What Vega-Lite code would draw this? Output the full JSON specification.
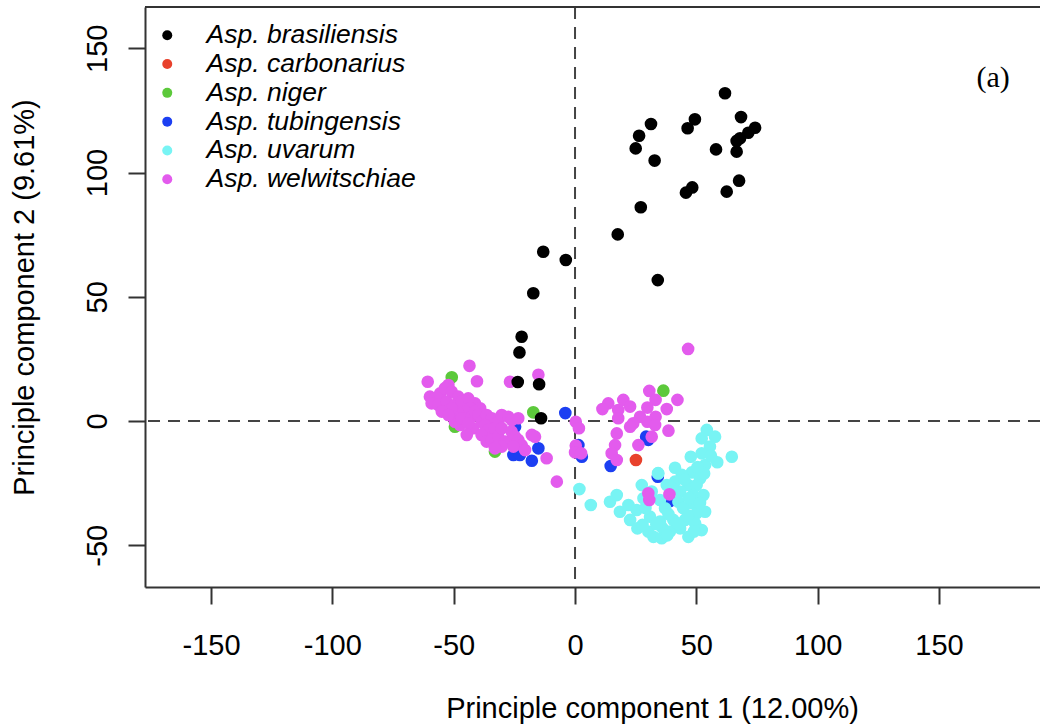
{
  "$schema": "https://vega.github.io/schema/vega-lite/v6.json",
  "autosize": "none",
  "padding": {"left": 145, "top": 7, "right": 0, "bottom": 139},
  "width": 895,
  "height": 580,
  "background": "white",
  "config": {
    "view": {"stroke": null},
    "axis": {
      "grid": false,
      "domainColor": "#333333",
      "domainWidth": 2,
      "tickColor": "#333333",
      "tickWidth": 2,
      "tickSize": 17,
      "labelFont": "Liberation Sans",
      "labelFontSize": 29,
      "labelColor": "#000000",
      "titleFont": "Liberation Sans",
      "titleFontSize": 29,
      "titleFontWeight": "normal",
      "titleColor": "#000000"
    },
    "legend": {
      "orient": "none",
      "legendX": 9,
      "legendY": 15,
      "padding": 0,
      "labelFont": "Liberation Sans",
      "labelFontSize": 26.5,
      "labelFontStyle": "italic",
      "labelColor": "#000000",
      "labelOffset": 26,
      "symbolSize": 100,
      "symbolType": "circle",
      "symbolStrokeWidth": 0,
      "rowPadding": 1.8,
      "labelLimit": 400
    }
  },
  "datasets": {
    "pts": [
      {"species": "Asp. tubingensis", "pc1": -4.0, "pc2": 3.2},
      {"species": "Asp. tubingensis", "pc1": 1.4, "pc2": -9.7},
      {"species": "Asp. tubingensis", "pc1": 2.8, "pc2": -14.4},
      {"species": "Asp. tubingensis", "pc1": -15.1, "pc2": -11.0},
      {"species": "Asp. tubingensis", "pc1": -17.8, "pc2": -16.0},
      {"species": "Asp. tubingensis", "pc1": -25.4, "pc2": -13.7},
      {"species": "Asp. tubingensis", "pc1": -22.7, "pc2": -13.7},
      {"species": "Asp. tubingensis", "pc1": -32.3, "pc2": -3.6},
      {"species": "Asp. tubingensis", "pc1": -24.7, "pc2": -2.3},
      {"species": "Asp. tubingensis", "pc1": 29.3, "pc2": -6.3},
      {"species": "Asp. tubingensis", "pc1": 30.2, "pc2": -7.6},
      {"species": "Asp. tubingensis", "pc1": 14.7, "pc2": -18.1},
      {"species": "Asp. tubingensis", "pc1": 34.1, "pc2": -22.4},
      {"species": "Asp. tubingensis", "pc1": 39.1, "pc2": -32.2},
      {"species": "Asp. niger", "pc1": -50.8, "pc2": 17.6},
      {"species": "Asp. niger", "pc1": -17.2, "pc2": 3.5},
      {"species": "Asp. niger", "pc1": 36.4, "pc2": 12.2},
      {"species": "Asp. niger", "pc1": -49.5, "pc2": -2.3},
      {"species": "Asp. niger", "pc1": -33.0, "pc2": -12.3},
      {"species": "Asp. uvarum", "pc1": 54.3, "pc2": -3.6},
      {"species": "Asp. uvarum", "pc1": 57.7, "pc2": -6.3},
      {"species": "Asp. uvarum", "pc1": 52.2, "pc2": -7.0},
      {"species": "Asp. uvarum", "pc1": 55.6, "pc2": -10.3},
      {"species": "Asp. uvarum", "pc1": 52.2, "pc2": -13.0},
      {"species": "Asp. uvarum", "pc1": 47.7, "pc2": -14.4},
      {"species": "Asp. uvarum", "pc1": 64.6, "pc2": -14.4},
      {"species": "Asp. uvarum", "pc1": 58.6, "pc2": -16.6},
      {"species": "Asp. uvarum", "pc1": 53.6, "pc2": -17.7},
      {"species": "Asp. uvarum", "pc1": 48.1, "pc2": -20.7},
      {"species": "Asp. uvarum", "pc1": 51.5, "pc2": -23.1},
      {"species": "Asp. uvarum", "pc1": 41.2, "pc2": -18.8},
      {"species": "Asp. uvarum", "pc1": 44.0, "pc2": -21.7},
      {"species": "Asp. uvarum", "pc1": 53.2, "pc2": -21.1},
      {"species": "Asp. uvarum", "pc1": 34.3, "pc2": -21.1},
      {"species": "Asp. uvarum", "pc1": 41.2, "pc2": -24.4},
      {"species": "Asp. uvarum", "pc1": 46.7, "pc2": -25.8},
      {"species": "Asp. uvarum", "pc1": 50.1, "pc2": -25.8},
      {"species": "Asp. uvarum", "pc1": 27.5, "pc2": -25.8},
      {"species": "Asp. uvarum", "pc1": 31.6, "pc2": -28.4},
      {"species": "Asp. uvarum", "pc1": 43.3, "pc2": -28.4},
      {"species": "Asp. uvarum", "pc1": 48.7, "pc2": -29.8},
      {"species": "Asp. uvarum", "pc1": 52.9, "pc2": -29.8},
      {"species": "Asp. uvarum", "pc1": 17.2, "pc2": -29.8},
      {"species": "Asp. uvarum", "pc1": 14.4, "pc2": -32.5},
      {"species": "Asp. uvarum", "pc1": 28.2, "pc2": -31.1},
      {"species": "Asp. uvarum", "pc1": 35.0, "pc2": -31.8},
      {"species": "Asp. uvarum", "pc1": 42.6, "pc2": -32.5},
      {"species": "Asp. uvarum", "pc1": 48.1, "pc2": -33.1},
      {"species": "Asp. uvarum", "pc1": 22.0, "pc2": -33.8},
      {"species": "Asp. uvarum", "pc1": 25.4, "pc2": -35.8},
      {"species": "Asp. uvarum", "pc1": 37.1, "pc2": -35.1},
      {"species": "Asp. uvarum", "pc1": 18.5, "pc2": -36.5},
      {"species": "Asp. uvarum", "pc1": 53.6, "pc2": -36.5},
      {"species": "Asp. uvarum", "pc1": 50.1, "pc2": -37.1},
      {"species": "Asp. uvarum", "pc1": 30.9, "pc2": -38.5},
      {"species": "Asp. uvarum", "pc1": 22.7, "pc2": -39.8},
      {"species": "Asp. uvarum", "pc1": 35.0, "pc2": -40.5},
      {"species": "Asp. uvarum", "pc1": 40.5, "pc2": -39.8},
      {"species": "Asp. uvarum", "pc1": 45.3, "pc2": -39.8},
      {"species": "Asp. uvarum", "pc1": 49.5, "pc2": -41.2},
      {"species": "Asp. uvarum", "pc1": 25.7, "pc2": -43.2},
      {"species": "Asp. uvarum", "pc1": 30.2, "pc2": -44.5},
      {"species": "Asp. uvarum", "pc1": 32.3, "pc2": -46.6},
      {"species": "Asp. uvarum", "pc1": 35.7, "pc2": -47.2},
      {"species": "Asp. uvarum", "pc1": 39.1, "pc2": -44.5},
      {"species": "Asp. uvarum", "pc1": 43.3, "pc2": -43.2},
      {"species": "Asp. uvarum", "pc1": 46.7, "pc2": -46.6},
      {"species": "Asp. uvarum", "pc1": 52.2, "pc2": -43.9},
      {"species": "Asp. uvarum", "pc1": 37.8, "pc2": -25.8},
      {"species": "Asp. uvarum", "pc1": 34.2, "pc2": -21.0},
      {"species": "Asp. uvarum", "pc1": 1.8, "pc2": -27.4},
      {"species": "Asp. uvarum", "pc1": 6.5, "pc2": -33.8},
      {"species": "Asp. uvarum", "pc1": 38.5, "pc2": -37.5},
      {"species": "Asp. uvarum", "pc1": 44.5, "pc2": -35.0},
      {"species": "Asp. uvarum", "pc1": 47.0, "pc2": -31.0},
      {"species": "Asp. uvarum", "pc1": 40.0, "pc2": -27.0},
      {"species": "Asp. uvarum", "pc1": 36.0, "pc2": -43.0},
      {"species": "Asp. uvarum", "pc1": 49.0, "pc2": -44.5},
      {"species": "Asp. uvarum", "pc1": 33.5, "pc2": -41.5},
      {"species": "Asp. uvarum", "pc1": 27.8, "pc2": -41.8},
      {"species": "Asp. uvarum", "pc1": 50.5, "pc2": -18.5},
      {"species": "Asp. uvarum", "pc1": 56.0, "pc2": -14.0},
      {"species": "Asp. uvarum", "pc1": 45.0, "pc2": -23.5},
      {"species": "Asp. uvarum", "pc1": 42.5, "pc2": -41.5},
      {"species": "Asp. uvarum", "pc1": 38.0, "pc2": -46.0},
      {"species": "Asp. uvarum", "pc1": 46.5, "pc2": -38.0},
      {"species": "Asp. uvarum", "pc1": 51.5, "pc2": -33.0},
      {"species": "Asp. uvarum", "pc1": 29.0, "pc2": -35.0},
      {"species": "Asp. welwitschiae", "pc1": -43.5, "pc2": 22.2},
      {"species": "Asp. welwitschiae", "pc1": -60.7, "pc2": 15.8},
      {"species": "Asp. welwitschiae", "pc1": -40.4, "pc2": 16.0},
      {"species": "Asp. welwitschiae", "pc1": -26.8, "pc2": 15.8},
      {"species": "Asp. welwitschiae", "pc1": -15.1, "pc2": 18.6},
      {"species": "Asp. welwitschiae", "pc1": -59.8, "pc2": 9.8},
      {"species": "Asp. welwitschiae", "pc1": -52.2, "pc2": 14.5},
      {"species": "Asp. welwitschiae", "pc1": -41.2, "pc2": 7.1},
      {"species": "Asp. welwitschiae", "pc1": -39.1, "pc2": 5.1},
      {"species": "Asp. welwitschiae", "pc1": -49.5, "pc2": -0.3},
      {"species": "Asp. welwitschiae", "pc1": -47.4, "pc2": -1.6},
      {"species": "Asp. welwitschiae", "pc1": -41.9, "pc2": -2.9},
      {"species": "Asp. welwitschiae", "pc1": -57.7, "pc2": 9.1},
      {"species": "Asp. welwitschiae", "pc1": -55.6, "pc2": 11.1},
      {"species": "Asp. welwitschiae", "pc1": -53.6, "pc2": 13.2},
      {"species": "Asp. welwitschiae", "pc1": -50.8, "pc2": 11.8},
      {"species": "Asp. welwitschiae", "pc1": -48.1, "pc2": 9.8},
      {"species": "Asp. welwitschiae", "pc1": -59.1, "pc2": 7.1},
      {"species": "Asp. welwitschiae", "pc1": -56.3, "pc2": 6.4},
      {"species": "Asp. welwitschiae", "pc1": -52.9, "pc2": 7.8},
      {"species": "Asp. welwitschiae", "pc1": -49.5, "pc2": 6.4},
      {"species": "Asp. welwitschiae", "pc1": -46.7, "pc2": 7.8},
      {"species": "Asp. welwitschiae", "pc1": -44.0, "pc2": 9.1},
      {"species": "Asp. welwitschiae", "pc1": -43.3, "pc2": 5.1},
      {"species": "Asp. welwitschiae", "pc1": -45.3, "pc2": 3.8},
      {"species": "Asp. welwitschiae", "pc1": -48.1, "pc2": 3.1},
      {"species": "Asp. welwitschiae", "pc1": -50.8, "pc2": 5.1},
      {"species": "Asp. welwitschiae", "pc1": -54.9, "pc2": 3.8},
      {"species": "Asp. welwitschiae", "pc1": -52.2, "pc2": 2.4},
      {"species": "Asp. welwitschiae", "pc1": -46.7, "pc2": 1.1},
      {"species": "Asp. welwitschiae", "pc1": -42.6, "pc2": 1.7},
      {"species": "Asp. welwitschiae", "pc1": -41.2, "pc2": 3.8},
      {"species": "Asp. welwitschiae", "pc1": -44.0, "pc2": -0.9},
      {"species": "Asp. welwitschiae", "pc1": -44.6, "pc2": -5.6},
      {"species": "Asp. welwitschiae", "pc1": -39.8, "pc2": 2.4},
      {"species": "Asp. welwitschiae", "pc1": -38.5, "pc2": -0.3},
      {"species": "Asp. welwitschiae", "pc1": -36.4, "pc2": 2.4},
      {"species": "Asp. welwitschiae", "pc1": -34.3, "pc2": 1.1},
      {"species": "Asp. welwitschiae", "pc1": -37.1, "pc2": -1.6},
      {"species": "Asp. welwitschiae", "pc1": -35.7, "pc2": -3.6},
      {"species": "Asp. welwitschiae", "pc1": -31.6, "pc2": -0.3},
      {"species": "Asp. welwitschiae", "pc1": -30.2, "pc2": 2.4},
      {"species": "Asp. welwitschiae", "pc1": -27.5, "pc2": 1.7},
      {"species": "Asp. welwitschiae", "pc1": -26.1, "pc2": 0.4},
      {"species": "Asp. welwitschiae", "pc1": -23.4, "pc2": 1.1},
      {"species": "Asp. welwitschiae", "pc1": -33.0, "pc2": -2.9},
      {"species": "Asp. welwitschiae", "pc1": -38.5, "pc2": -5.6},
      {"species": "Asp. welwitschiae", "pc1": -36.4, "pc2": -8.3},
      {"species": "Asp. welwitschiae", "pc1": -34.3, "pc2": -7.6},
      {"species": "Asp. welwitschiae", "pc1": -31.6, "pc2": -6.3},
      {"species": "Asp. welwitschiae", "pc1": -30.2, "pc2": -2.9},
      {"species": "Asp. welwitschiae", "pc1": -28.8, "pc2": -8.3},
      {"species": "Asp. welwitschiae", "pc1": -26.1, "pc2": -4.3},
      {"species": "Asp. welwitschiae", "pc1": -24.7, "pc2": -6.3},
      {"species": "Asp. welwitschiae", "pc1": -23.4, "pc2": -7.6},
      {"species": "Asp. welwitschiae", "pc1": -22.0, "pc2": -9.7},
      {"species": "Asp. welwitschiae", "pc1": -25.4, "pc2": -10.3},
      {"species": "Asp. welwitschiae", "pc1": -30.2, "pc2": -10.3},
      {"species": "Asp. welwitschiae", "pc1": -33.0, "pc2": -11.0},
      {"species": "Asp. welwitschiae", "pc1": -20.6, "pc2": -11.7},
      {"species": "Asp. welwitschiae", "pc1": -17.8, "pc2": -5.6},
      {"species": "Asp. welwitschiae", "pc1": -16.5, "pc2": -6.3},
      {"species": "Asp. welwitschiae", "pc1": -11.7, "pc2": -15.0},
      {"species": "Asp. welwitschiae", "pc1": -7.5, "pc2": -24.4},
      {"species": "Asp. welwitschiae", "pc1": 0.3, "pc2": -0.3},
      {"species": "Asp. welwitschiae", "pc1": 1.6, "pc2": -2.9},
      {"species": "Asp. welwitschiae", "pc1": 0.3, "pc2": -9.9},
      {"species": "Asp. welwitschiae", "pc1": 0.0, "pc2": -12.6},
      {"species": "Asp. welwitschiae", "pc1": 2.5, "pc2": -13.0},
      {"species": "Asp. welwitschiae", "pc1": 30.6, "pc2": 12.1},
      {"species": "Asp. welwitschiae", "pc1": 33.2, "pc2": 8.5},
      {"species": "Asp. welwitschiae", "pc1": 42.2, "pc2": 8.5},
      {"species": "Asp. welwitschiae", "pc1": 19.9, "pc2": 8.5},
      {"species": "Asp. welwitschiae", "pc1": 13.7, "pc2": 7.1},
      {"species": "Asp. welwitschiae", "pc1": 11.3, "pc2": 4.8},
      {"species": "Asp. welwitschiae", "pc1": 17.8, "pc2": 4.4},
      {"species": "Asp. welwitschiae", "pc1": 22.7, "pc2": 5.8},
      {"species": "Asp. welwitschiae", "pc1": 29.8, "pc2": 5.4},
      {"species": "Asp. welwitschiae", "pc1": 37.8, "pc2": 4.8},
      {"species": "Asp. welwitschiae", "pc1": 17.8, "pc2": 1.1},
      {"species": "Asp. welwitschiae", "pc1": 26.8, "pc2": 1.7},
      {"species": "Asp. welwitschiae", "pc1": 33.2, "pc2": 1.7},
      {"species": "Asp. welwitschiae", "pc1": 24.0, "pc2": -0.9},
      {"species": "Asp. welwitschiae", "pc1": 29.8, "pc2": -0.3},
      {"species": "Asp. welwitschiae", "pc1": 33.0, "pc2": -1.6},
      {"species": "Asp. welwitschiae", "pc1": 22.7, "pc2": -2.3},
      {"species": "Asp. welwitschiae", "pc1": 38.5, "pc2": -3.9},
      {"species": "Asp. welwitschiae", "pc1": 17.2, "pc2": -5.0},
      {"species": "Asp. welwitschiae", "pc1": 31.6, "pc2": -6.3},
      {"species": "Asp. welwitschiae", "pc1": 16.5, "pc2": -9.7},
      {"species": "Asp. welwitschiae", "pc1": 26.1, "pc2": -9.7},
      {"species": "Asp. welwitschiae", "pc1": 15.1, "pc2": -13.0},
      {"species": "Asp. welwitschiae", "pc1": 17.2, "pc2": -15.7},
      {"species": "Asp. welwitschiae", "pc1": 30.2, "pc2": -29.1},
      {"species": "Asp. welwitschiae", "pc1": 30.6, "pc2": -31.8},
      {"species": "Asp. welwitschiae", "pc1": 38.9, "pc2": -29.5},
      {"species": "Asp. welwitschiae", "pc1": 46.6, "pc2": 29.0},
      {"species": "Asp. brasiliensis", "pc1": 61.8, "pc2": 131.9},
      {"species": "Asp. brasiliensis", "pc1": 68.4, "pc2": 122.3},
      {"species": "Asp. brasiliensis", "pc1": 49.4, "pc2": 121.4},
      {"species": "Asp. brasiliensis", "pc1": 46.4, "pc2": 117.8},
      {"species": "Asp. brasiliensis", "pc1": 31.3, "pc2": 119.5},
      {"species": "Asp. brasiliensis", "pc1": 26.4, "pc2": 114.8},
      {"species": "Asp. brasiliensis", "pc1": 25.0, "pc2": 109.7},
      {"species": "Asp. brasiliensis", "pc1": 32.8, "pc2": 104.8},
      {"species": "Asp. brasiliensis", "pc1": 74.2, "pc2": 118.0},
      {"species": "Asp. brasiliensis", "pc1": 71.4, "pc2": 116.0},
      {"species": "Asp. brasiliensis", "pc1": 68.0, "pc2": 113.8},
      {"species": "Asp. brasiliensis", "pc1": 66.6, "pc2": 112.7},
      {"species": "Asp. brasiliensis", "pc1": 58.1, "pc2": 109.3},
      {"species": "Asp. brasiliensis", "pc1": 66.6, "pc2": 108.4},
      {"species": "Asp. brasiliensis", "pc1": 67.6, "pc2": 96.7},
      {"species": "Asp. brasiliensis", "pc1": 62.5, "pc2": 92.3},
      {"species": "Asp. brasiliensis", "pc1": 48.3, "pc2": 94.0},
      {"species": "Asp. brasiliensis", "pc1": 45.7, "pc2": 91.9},
      {"species": "Asp. brasiliensis", "pc1": 27.1, "pc2": 86.0},
      {"species": "Asp. brasiliensis", "pc1": 17.6, "pc2": 75.1},
      {"species": "Asp. brasiliensis", "pc1": 34.1, "pc2": 56.7},
      {"species": "Asp. brasiliensis", "pc1": -13.1, "pc2": 68.1},
      {"species": "Asp. brasiliensis", "pc1": -3.8, "pc2": 64.8},
      {"species": "Asp. brasiliensis", "pc1": -17.2, "pc2": 51.4},
      {"species": "Asp. brasiliensis", "pc1": -22.0, "pc2": 33.9},
      {"species": "Asp. brasiliensis", "pc1": -22.9, "pc2": 27.6},
      {"species": "Asp. brasiliensis", "pc1": -23.6, "pc2": 15.7},
      {"species": "Asp. brasiliensis", "pc1": -14.8, "pc2": 14.8},
      {"species": "Asp. brasiliensis", "pc1": -14.0, "pc2": 1.1},
      {"species": "Asp. carbonarius", "pc1": 25.1, "pc2": -15.7}
    ],
    "one": [{"label": "(a)"}]
  },
  "layer": [
    {
      "data": {"name": "one"},
      "mark": {"type": "rule", "color": "#444444", "strokeWidth": 2, "strokeDash": [12, 8]},
      "encoding": {
        "x": {"datum": 0, "type": "quantitative", "scale": {"domain": [-177.2, 191.6], "nice": false, "zero": false}}
      }
    },
    {
      "data": {"name": "one"},
      "mark": {"type": "rule", "color": "#444444", "strokeWidth": 2, "strokeDash": [12, 8]},
      "encoding": {
        "y": {"datum": 0, "type": "quantitative", "scale": {"domain": [-66.8, 166.6], "nice": false, "zero": false}}
      }
    },
    {
      "data": {"name": "one"},
      "mark": {"type": "rule", "color": "#333333", "strokeWidth": 2},
      "encoding": {
        "y": {"datum": 166.6, "type": "quantitative"}
      }
    },
    {
      "data": {"name": "pts"},
      "mark": {"type": "circle", "size": 160, "opacity": 1},
      "encoding": {
        "x": {
          "field": "pc1", "type": "quantitative",
          "scale": {"domain": [-177.2, 191.6], "nice": false, "zero": false},
          "axis": {
            "title": "Principle component 1 (12.00%)",
            "values": [-150, -100, -50, 0, 50, 100, 150],
            "labelExpr": "'' + datum.value",
            "labelPadding": 27,
            "titleX": 507,
            "titleY": 121,
            "titleAlign": "center",
            "titleBaseline": "middle",
            "titleAnchor": null
          }
        },
        "y": {
          "field": "pc2", "type": "quantitative",
          "scale": {"domain": [-66.8, 166.6], "nice": false, "zero": false},
          "axis": {
            "title": "Principle component 2 (9.61%)",
            "values": [-50, 0, 50, 100, 150],
            "labelExpr": "'' + datum.value",
            "labelAngle": -90,
            "labelAlign": "center",
            "labelBaseline": "bottom",
            "labelPadding": 16,
            "titleX": -121,
            "titleY": 290,
            "titleAlign": "center",
            "titleBaseline": "middle",
            "titleAngle": -90
          }
        },
        "color": {
          "field": "species", "type": "nominal",
          "scale": {
            "domain": ["Asp. brasiliensis", "Asp. carbonarius", "Asp. niger", "Asp. tubingensis", "Asp. uvarum", "Asp. welwitschiae"],
            "range": ["#000000", "#E8412C", "#5CC93B", "#1C3FF2", "#78F4F4", "#E35BED"]
          },
          "legend": {"title": null}
        },
        "order": {"value": 0}
      }
    },
    {
      "data": {"name": "one"},
      "mark": {"type": "text", "font": "Liberation Serif", "fontSize": 30, "color": "#000000", "align": "center", "baseline": "middle"},
      "encoding": {
        "x": {"datum": 172.3, "type": "quantitative"},
        "y": {"datum": 138, "type": "quantitative"},
        "text": {"field": "label"}
      }
    }
  ]
}
